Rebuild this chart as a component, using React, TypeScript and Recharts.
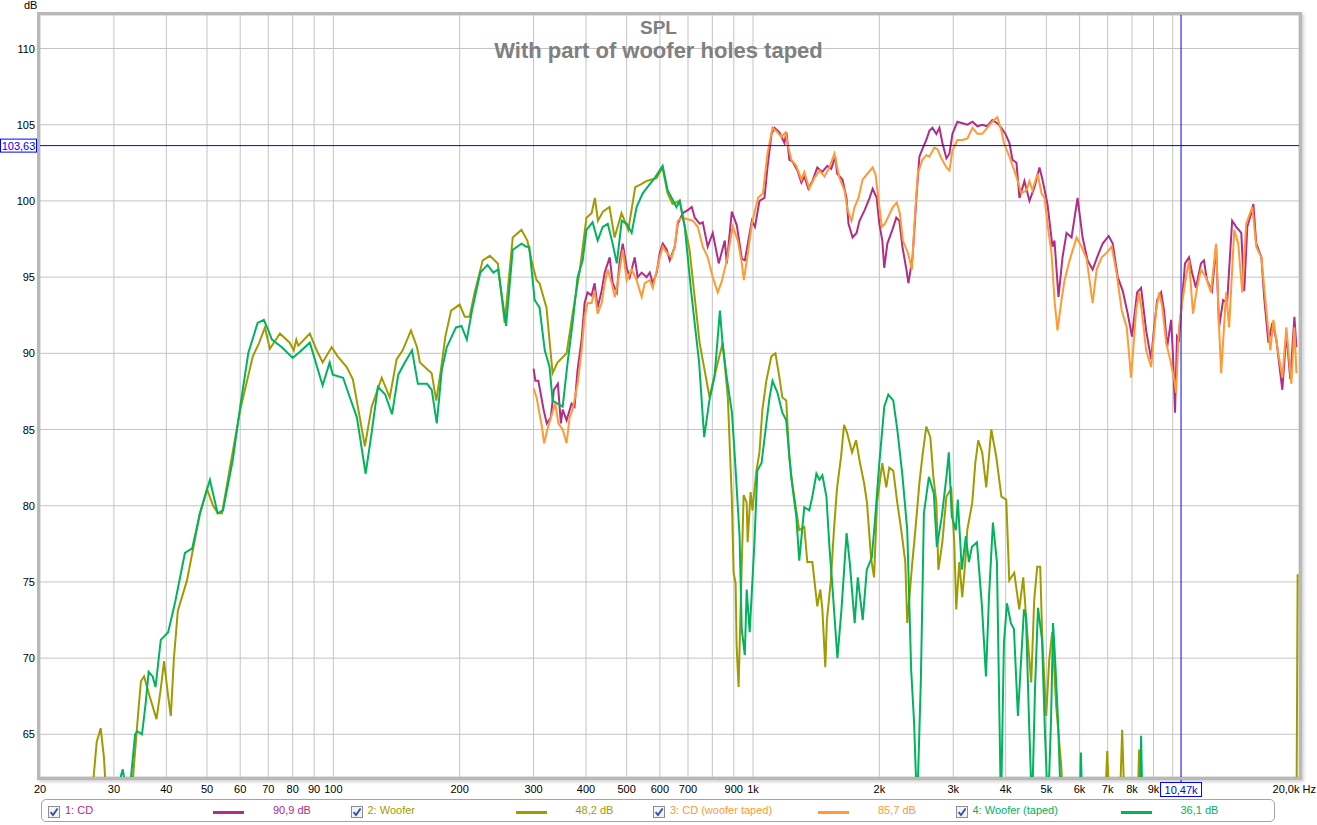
import { CartesianGrid, Line, LineChart, ReferenceLine, XAxis, YAxis } from "recharts";

// series 1: CD
const cdFreq = [
  300, 303, 308, 317, 322.6, 329.8, 335.3, 342.8, 348.5, 352, 359.6, 369.5, 375.6, 381.9, 390.5, 397, 403.4, 412.4,
  419.3, 426.4, 435.9, 443.2, 455.6, 463, 473.6, 481.4, 489.4, 500.2, 508.5, 522.6, 531, 543, 558, 567.6, 577, 589.7,
  599.6, 609.6, 623, 633.4, 651, 661.7, 680, 699, 714.6, 726.6, 746.8, 759, 780, 801.8, 828.7, 856.6, 866, 890.3, 915,
  940.6, 956.3, 994, 1011, 1036, 1065, 1082.5, 1107, 1125, 1156, 1188, 1201, 1221, 1241, 1276, 1304, 1325, 1355, 1385,
  1423, 1462, 1503, 1536, 1570, 1587, 1634, 1670, 1689, 1727, 1765, 1794, 1845, 1896, 1928, 1971, 2000, 2033, 2055,
  2090, 2148, 2195, 2232, 2270, 2320, 2346, 2400, 2455, 2492, 2532, 2588, 2632, 2676, 2735, 2781, 2827, 2890, 2938,
  2987, 3070, 3155, 3243, 3334, 3427, 3517, 3615, 3717, 3820, 3907, 3995, 4084, 4152, 4244, 4314, 4434, 4558, 4684,
  4815, 4895, 5031, 5171, 5228, 5345, 5464, 5586, 5742, 5935, 6101, 6271, 6446, 6626, 6811, 7040, 7197, 7398, 7604,
  7816, 8000, 8227, 8410, 8644, 8886, 9033, 9183, 9387, 9540, 9700, 9915, 10020, 10130, 10240, 10350, 10530, 10700,
  10940, 11120, 11360, 11680, 11870, 12070, 12410, 12690, 12900, 13190, 13480, 13860, 14170, 14570, 14810, 15060,
  15400, 15570, 15820, 16270, 16540, 16910, 17280, 17660, 18250, 18660, 19070, 19500, 19720
];
const cdDb = [
  89.0, 88.2, 88.2, 86.3, 85.4, 85.8, 87.6, 88.0, 85.4, 86.3, 85.6, 86.7, 86.5, 88.9, 90.9, 93.3, 94.0, 93.8,
  94.6, 93.0, 94.1, 95.3, 96.3, 94.6, 94.0, 96.1, 97.2, 95.6, 95.0, 96.3, 95.0, 95.3, 95.0, 95.3, 94.6, 95.3,
  96.6, 97.2, 96.8, 96.1, 97.0, 98.5, 99.2, 99.4, 99.6, 98.9, 98.5, 98.6, 97.0, 97.9, 95.9, 97.4, 95.9, 99.3, 98.4,
  96.2, 96.1, 98.7, 98.3, 100.0, 100.2, 102.2, 104.4, 104.8, 104.5, 103.8, 104.5, 102.7, 102.6, 102.0, 101.2, 101.6, 100.8, 101.3,
  102.2, 101.9, 102.3, 102.1, 102.9, 101.8, 101.4, 100.2, 98.5, 97.6, 97.9, 98.7, 99.4, 100.2, 100.8, 100.2, 98.5, 97.4, 95.6,
  97.2, 98.1, 98.9, 98.7, 97.0, 95.5, 94.6, 96.3, 100.5, 102.9, 103.4, 104.0, 104.6, 104.8, 104.4, 104.8, 103.8, 102.8, 103.1,
  104.4, 105.2, 105.1, 105.0, 105.2, 104.9, 105.0, 104.9, 105.3, 105.1, 104.8, 104.4, 103.8, 102.7, 102.5, 100.2, 101.3, 100.0, 100.9,
  102.2, 101.4, 99.8, 97.0, 97.4, 93.7, 96.3, 97.9, 97.6, 100.2, 97.6, 96.1, 95.5, 96.4, 97.2, 97.7, 97.2, 95.0, 94.1,
  92.6, 91.1, 94.0, 94.3, 91.5, 89.6, 91.7, 93.5, 94.0, 92.8, 90.4, 92.2, 89.8, 86.1, 91.1, 90.9, 93.5, 95.9,
  96.3, 95.3, 94.3, 95.9, 96.1, 94.8, 94.1, 97.0, 91.7, 93.5, 93.3, 98.7, 98.3, 97.9, 94.1, 98.3,
  99.2, 99.8, 97.2, 96.3, 93.5, 90.7, 92.0, 90.9, 87.6, 91.3, 88.3, 92.4, 90.4
];

// series 2: Woofer
const wooferFreq = [
  20, 24, 26.0, 26.8, 27.3, 27.9, 28.4, 28.9, 30.5, 32.4, 33.5, 34.3, 34.8, 35.4, 36.5, 37.9, 38.8, 39.5, 40.4, 41.0,
  41.7, 42.6, 44.8, 48.1, 50, 51.7, 53.1, 54.3, 56.7, 60, 64.3, 66.6, 68.7, 70.6, 74.6, 78.7, 80.5, 81.6, 82.5, 87.9,
  91.3, 94.3, 99.1, 102.4, 107.6, 111.3, 114.4, 118.9, 123.4, 130.4, 136.3, 141.5, 146.3, 153.1, 158.3, 160.8, 171.5,
  175.9, 180.4, 184.9, 190.8, 200, 205.6, 211.2, 217.1, 227, 236.1, 246.6, 256, 267.6, 280.7, 290, 296.5, 305, 310,
  322, 333, 342, 359.6, 371.7, 386, 401, 412.6, 420, 427, 439, 455, 468, 486, 504.5, 524, 541.6, 556.6, 589, 608.6,
  625.7, 643, 668.6, 706, 746, 788, 801, 847, 871, 890, 899, 909, 914, 924, 939, 950, 966, 971, 987, 997, 1019, 1036,
  1053, 1076, 1106, 1131, 1156, 1175, 1200, 1220, 1240, 1268, 1289, 1325, 1347, 1385, 1423, 1447, 1463, 1487, 1500,
  1533, 1559, 1585, 1621, 1648, 1675, 1722, 1760, 1799, 1839, 1869, 1911, 1943, 1975, 2033, 2078, 2112, 2159, 2207,
  2256, 2306, 2331, 2397, 2437, 2492, 2532, 2588, 2646, 2690, 2735, 2765, 2826, 2890, 2967, 3017, 3050, 3101, 3152,
  3205, 3240, 3330, 3386, 3442, 3517, 3596, 3696, 3800, 3907, 4013, 4080, 4193, 4310, 4405, 4502, 4602, 4678, 4756,
  4835, 4888, 4997, 5080, 5165, 5280, 5427, 5550, 6200, 6866, 6983, 7100, 7455, 7580, 7706, 8227, 8318, 8410, 10000,
  15000, 19700, 19850
];
const wooferDb = [
  52, 55, 58, 62.0, 64.5, 65.4, 63.5, 60, 55, 58, 63, 66.5, 68.5, 68.8, 67.5, 66.0, 68.0, 69.8, 67.5, 66.2,
  70, 73.1, 75.1, 79.5, 81.1, 80.0, 79.5, 79.5, 82.5, 86.3, 89.8, 90.7, 91.7, 90.3, 91.3, 90.7, 90.2, 90.9, 90.5, 91.3,
  90.2, 89.4, 90.4, 89.8, 89.1, 88.3, 86.5, 83.9, 86.5, 88.4, 87.1, 89.6, 90.2, 91.5, 90.4, 89.4, 88.7,
  86.9, 88.9, 91.1, 92.8, 93.2, 92.4, 92.4, 94.0, 96.1, 96.4, 95.9, 92.0, 97.6, 98.1, 97.4, 96.1, 94.8, 94.6,
  93.0, 88.7, 89.4, 90.0, 92.6, 95.3, 98.9, 99.2, 100.2, 98.7, 99.3, 99.6, 97.6, 99.2, 98.1, 100.9, 101.1, 101.3, 101.5, 102.2,
  100.5, 99.8, 100.0, 96.8, 90.7, 87.1, 88.0, 90.7, 87.1, 80.6, 75.6, 74.9, 70.8, 68.1, 75.6, 80.7, 80.2, 77.6, 80.9, 79.7, 82.3, 83.5,
  86.3, 88.2, 89.8, 90.0, 88.4, 87.1, 86.9, 83.2, 81.5, 79.7, 78.4, 78.6, 76.3, 76.3, 73.4, 74.5, 73.2, 69.4, 72.5,
  75.1, 78.4, 81.1, 83.2, 85.3, 84.8, 83.5, 84.3, 82.8, 81.5, 80.2, 76.6, 75.3, 80.2, 82.8, 81.2, 82.5, 82.3, 80.2,
  78.4, 76.3, 72.3, 76.3, 78.4, 81.5, 83.2, 85.2, 84.5, 81.9, 80.2, 75.8, 77.6, 80.6, 81.1, 77.6, 73.2, 76.3, 74.0,
  76.3, 78.4, 80.2, 82.8, 84.3, 83.5, 81.2, 85.0, 83.2, 80.6, 80.4, 75.1, 75.6, 73.2, 75.3, 71.7, 68.4, 73.8, 76.0,
  76.0, 71.4, 66.2, 69.9, 71.7, 66.8, 62.9, 58, 55, 59, 63.9, 59, 59, 65.3, 59, 59, 64.0, 59, 55,
  52, 56, 75.5
];

// series 3: CD (woofer taped)
const cdTapedFreq = [
  300, 305, 314, 318, 323.5, 332.6, 338, 343.7, 352, 359.6, 365.6, 371.7, 382, 390.5, 397, 403.4, 412.4, 419.3, 426.4,
  435.9, 443.2, 450.7, 460.7, 468.4, 476.2, 489.4, 500.2, 514, 528, 543, 552, 567.6, 577, 599.6, 609.6, 623, 640, 651,
  661.7, 680, 699, 718.5, 738.5, 759, 780, 801.8, 824, 842, 866, 895, 920, 940.6, 951, 972.6, 994, 1028, 1056, 1082.5,
  1113, 1144, 1169, 1195, 1208, 1234, 1268, 1304, 1325, 1362, 1400, 1440, 1480, 1521, 1563, 1607, 1652, 1680, 1717,
  1746, 1784, 1824, 1875, 1928, 1960, 1983, 2027, 2061, 2095, 2154, 2201, 2238, 2276, 2339, 2391, 2430, 2470, 2532,
  2588, 2632, 2705, 2750, 2811, 2890, 2938, 2987, 3070, 3155, 3243, 3334, 3427, 3517, 3615, 3717, 3820, 3907, 3962,
  4084, 4193, 4263, 4360, 4482, 4558, 4633, 4764, 4870, 4951, 5031, 5142, 5228, 5316, 5435, 5526, 5680, 5903, 6067,
  6237, 6446, 6590, 6774, 6964, 7158, 7357, 7562, 7773, 7960, 8182, 8318, 8456, 8644, 8886, 9134, 9285, 9439, 9648,
  9861, 10080, 10190, 10350, 10530, 10760, 10940, 11180, 11430, 11680, 12000, 12340, 12690, 12900, 13050, 13410, 13630,
  14020, 14330, 14650, 14970, 15480, 15820, 16270, 16720, 17090, 17380, 17760, 18250, 18660, 19180, 19500, 19720
];
const cdTapedDb = [
  87.7, 87.1, 85.2, 84.1, 85.0, 86.1, 86.7, 85.4, 85.0, 84.1, 85.8, 86.3, 88.0, 90.2, 92.4, 93.3, 93.3, 94.1, 92.6,
  93.3, 94.6, 95.5, 94.6, 93.7, 94.6, 96.8, 94.8, 95.5, 94.8, 93.7, 94.6, 94.8, 94.3, 96.3, 97.0, 96.6, 96.3, 97.0,
  98.7, 98.9, 98.8, 98.7, 98.3, 97.0, 96.3, 95.0, 94.0, 94.7, 96.1, 98.3, 97.4, 95.9, 94.8, 96.6, 98.5, 100.2, 100.5, 103.1,
  104.8, 104.5, 104.2, 104.5, 103.8, 102.7, 102.3, 101.4, 101.9, 100.8, 101.5, 102.0, 101.6, 102.2, 103.1, 101.5, 100.7, 99.4, 98.7,
  99.6, 100.2, 101.4, 101.8, 102.2, 101.7, 100.5, 98.3, 98.5, 98.9, 99.6, 99.9, 99.2, 97.4, 96.6, 95.5, 98.9, 101.8, 102.7,
  103.0, 102.9, 103.5, 103.4, 102.8, 102.2, 102.0, 103.3, 104.0, 104.0, 104.1, 104.8, 104.4, 104.4, 104.8, 105.2, 105.5, 104.6, 103.8,
  102.9, 102.0, 101.4, 100.5, 100.7, 101.3, 100.7, 101.8, 100.5, 100.2, 98.5, 96.6, 93.5, 91.5, 93.5, 94.8, 96.1, 97.6, 97.0,
  96.2, 93.3, 95.5, 96.3, 96.6, 97.0, 95.2, 92.8, 91.7, 88.4, 92.8, 94.0, 92.6, 90.2, 89.1, 92.8, 94.0, 93.1, 90.7,
  89.6, 88.3, 87.4, 91.7, 93.3, 95.0, 96.1, 92.6, 94.3, 95.5, 95.0, 94.0, 97.2, 91.7, 88.7, 94.0, 91.7,
  98.1, 97.2, 94.0, 98.5, 99.6, 97.0, 96.3, 92.8, 90.2, 92.2, 90.4, 88.4, 91.7, 88.0, 91.7, 88.7
];

// series 4: Woofer (taped)
const wooferTapedFreq = [
  20, 29, 30.2, 31.2, 31.5, 32.0, 32.4, 32.9, 33.7, 34.1, 35.0, 35.7, 36.3, 37.1, 37.7, 38.8, 40.4, 42.0, 44.3, 46.1,
  48.1, 50.8, 53.0, 54.6, 57.6, 60, 62.7, 66.0, 68.3, 70.0, 71.4, 75.4, 80, 82.5, 87.9, 93.1, 94.3, 98.0, 99.7, 105.5,
  109.5, 113.8, 119.4, 123.4, 127.7, 132.9, 138, 142.8, 148, 154, 159, 167.3, 171.6, 176.4, 181.3, 186.3, 196, 202,
  208, 214, 224, 233, 240.6, 247, 258, 267.6, 281, 288, 293, 301.8, 310, 319, 327.5, 333, 342, 352, 361.6, 371.7, 382,
  392.8, 401, 414.7, 426.4, 438.4, 450.7, 463, 473.6, 486.7, 500, 513.9, 528, 546, 567.6, 583, 609, 626, 657, 669,
  687.6, 712, 728, 744, 765, 787, 810, 834, 847, 866, 891, 907, 929, 940, 956, 966, 982, 1008, 1024, 1048, 1076, 1095,
  1113, 1144, 1175, 1200, 1233, 1268, 1289, 1325, 1362, 1385, 1416, 1440, 1463, 1496, 1521, 1546, 1589, 1625, 1671,
  1700, 1747, 1777, 1826, 1867, 1919, 1951, 2000, 2055, 2101, 2159, 2207, 2268, 2331, 2382, 2420, 2460, 2512, 2554,
  2625, 2697, 2742, 2818, 2896, 2928, 2976, 3043, 3076, 3145, 3215, 3270, 3324, 3417, 3512, 3590, 3650, 3730, 3813,
  3898, 3962, 4028, 4117, 4186, 4278, 4423, 4472, 4546, 4622, 4699, 4777, 4883, 4964, 5047, 5131, 5188, 5245, 5333,
  5421, 5542, 5979, 6046, 6113, 8318, 8410, 8503, 12000, 20000
];
const wooferTapedDb = [
  50, 55, 58, 62.3, 62.7, 61.5, 60, 62, 65.0, 65.2, 65.0, 67, 69.1, 68.8, 68.1, 71.2, 71.7, 73.7, 76.9, 77.2,
  79.5, 81.7, 79.5, 79.7, 83.0, 86.5, 90.0, 92.0, 92.2, 91.5, 90.9, 90.4, 89.7, 90.0, 90.7, 88.4, 87.9, 89.4, 88.6, 88.4,
  87.1, 85.8, 82.1, 84.8, 87.8, 87.3, 86.0, 88.6, 89.4, 90.2, 88.0, 88.0, 87.6, 85.4, 88.9, 90.4, 91.7, 91.8,
  90.9, 92.8, 95.3, 95.8, 95.3, 95.5, 91.8, 96.8, 97.2, 97.0, 97.0, 93.5, 93.0, 90.2, 89.1, 86.9, 86.7, 86.5, 89.4, 92.0, 95.0,
  96.1, 98.1, 98.6, 97.4, 98.3, 98.5, 97.2, 95.9, 98.7, 98.5, 97.9, 99.6, 100.5, 101.1, 101.5, 102.3, 100.7, 99.6, 100.0,
  98.3, 94.1, 91.7, 89.4, 84.5, 86.9, 88.5, 92.8, 90.5, 88.4, 86.1, 82.8, 78.0, 71.9, 70.2, 74.5, 71.7, 77.6, 82.3, 82.8, 85.4, 87.1,
  88.2, 87.4, 86.1, 85.6, 81.9, 79.3, 76.4, 79.9, 79.7, 80.6, 82.1, 81.7, 82.0, 80.6, 77.3, 74.7, 70.0, 73.2, 78.2,
  76.3, 72.3, 75.3, 72.5, 75.8, 76.6, 78.9, 82.8, 86.5, 87.3, 86.9, 85.0, 82.1, 78.4, 69.2, 65.8, 60, 68.6, 79.5,
  81.9, 80.8, 77.3, 79.3, 82.1, 83.5, 79.3, 78.4, 80.4, 75.8, 78.0, 76.3, 77.3, 77.6, 73.4, 68.8, 74.0, 78.9, 76.3,
  60, 71.0, 73.6, 72.3, 71.9, 66.2, 73.2, 72.7, 66, 60, 68, 73.3, 71.2, 65, 60, 66, 72.3, 70, 65.8,
  60, 58, 58, 63.8, 58, 58, 64.9, 58, 55, 52
];

const xTicks = [20, 30, 40, 50, 60, 70, 80, 90, 100, 200, 300, 400, 500, 600, 700, 800, 900, 1000, 2000, 3000, 4000, 5000, 6000, 7000, 8000, 9000, 10000, 20000];
const xTickLabels = ["20", "30", "40", "50", "60", "70", "80", "90", "100", "200", "300", "400", "500", "600", "700", "", "900", "1k", "2k", "3k", "4k", "5k", "6k", "7k", "8k", "9k", "", "20,0k Hz"];
const yTicks = [65, 70, 75, 80, 85, 90, 95, 100, 105, 110];

const cursorHz = 10470;
const cursorDb = 103.63;

const seriesNames = ["1: CD", "2: Woofer", "3: CD (woofer taped)", "4: Woofer (taped)"];
const seriesValues = ["90,9 dB", "48,2 dB", "85,7 dB", "36,1 dB"];
const seriesColors = ["#b12d87", "#a09c00", "#ff9a35", "#00b35e"];

const zip = (f: number[], d: number[]) => f.map((v, i) => ({ f: v, db: d[i] }));
const cdData = zip(cdFreq, cdDb);
const wooferData = zip(wooferFreq, wooferDb);
const cdTapedData = zip(cdTapedFreq, cdTapedDb);
const wooferTapedData = zip(wooferTapedFreq, wooferTapedDb);

const FONT = "'Liberation Sans', Arial, sans-serif";

function XTick(props: any) {
  const { x, y, payload } = props;
  const idx = xTicks.indexOf(payload.value);
  const label = xTickLabels[idx];
  if (!label) return <g />;
  const last = idx === xTicks.length - 1;
  return (
    <text x={last ? 1316 : x} y={y + 8} textAnchor={last ? "end" : "middle"} fontFamily={FONT} fontSize={11} fill="#000">
      {label}
    </text>
  );
}

function YTick(props: any) {
  const { y, payload } = props;
  return (
    <text x={35} y={y + 4} textAnchor="end" fontFamily={FONT} fontSize={11} fill="#000">
      {payload.value}
    </text>
  );
}

function YCursorLabel(props: any) {
  const vb = props.viewBox || {};
  const y = vb.y ?? 0;
  return (
    <g>
      <rect x={0.5} y={y - 6.5} width={36} height={13} fill="#fff" stroke="#0000ff" />
      <text x={18.5} y={y + 4} textAnchor="middle" fontFamily={FONT} fontSize={11} fill="#0000ff">
        103,63
      </text>
    </g>
  );
}

function XCursorLabel(props: any) {
  const vb = props.viewBox || {};
  const x = vb.x ?? 0;
  const bottom = (vb.y ?? 0) + (vb.height ?? 0);
  return (
    <g>
      <line x1={x} x2={x} y1={bottom} y2={bottom + 5} stroke="#0000ff" />
      <rect x={x - 20.5} y={bottom + 5.5} width={41} height={14} fill="#fff" stroke="#0000ff" />
      <text x={x} y={bottom + 16.5} textAnchor="middle" fontFamily={FONT} fontSize={11} fill="#0000ff">
        10,47k
      </text>
    </g>
  );
}

function CheckBox() {
  return (
    <svg width={12} height={12} style={{ display: "block" }}>
      <rect x={0.5} y={0.5} width={11} height={11} fill="#f3f3f3" stroke="#8c8e90" />
      <path d="M2.6 6.2 L5 9 L9.6 2.4" stroke="#2b4db5" strokeWidth={1.8} fill="none" />
    </svg>
  );
}

export default function App() {
  return (
    <div style={{ position: "absolute", left: 0, top: 0, width: 1317, height: 825, background: "#fff", fontFamily: FONT }}>
      <LineChart width={1317} height={825} margin={{ top: 15, right: 18, bottom: 18, left: 0 }}>
        <CartesianGrid stroke="#c4c4c4" />
        <XAxis
          type="number"
          dataKey="f"
          scale="log"
          domain={[20, 20000]}
          ticks={xTicks}
          interval={0}
          allowDataOverflow
          axisLine={false}
          tickLine={false}
          height={30}
          tick={<XTick />}
        />
        <YAxis
          type="number"
          domain={[62.2, 112.2]}
          ticks={yTicks}
          interval={0}
          allowDataOverflow
          axisLine={false}
          tickLine={false}
          width={40}
          tick={<YTick />}
        />
        <Line data={cdData} dataKey="db" type="linear" stroke={seriesColors[0]} strokeWidth={2} dot={false} isAnimationActive={false} />
        <Line data={wooferData} dataKey="db" type="linear" stroke={seriesColors[1]} strokeWidth={2} dot={false} isAnimationActive={false} />
        <Line data={cdTapedData} dataKey="db" type="linear" stroke={seriesColors[2]} strokeWidth={2} dot={false} isAnimationActive={false} />
        <Line data={wooferTapedData} dataKey="db" type="linear" stroke={seriesColors[3]} strokeWidth={2} dot={false} isAnimationActive={false} />
        <ReferenceLine y={cursorDb} stroke="#0000ff" strokeWidth={1} label={(p: any) => <YCursorLabel {...p} />} />
        <ReferenceLine x={cursorHz} stroke="#0000ff" strokeWidth={1} label={(p: any) => <XCursorLabel {...p} />} />
      </LineChart>

      {/* plot frame */}
      <div
        style={{
          position: "absolute",
          left: 37,
          top: 12,
          width: 1259,
          height: 762,
          border: "3px solid #b8b8b8",
          boxShadow: "2px 2px 3px rgba(0,0,0,0.18)",
          pointerEvents: "none"
        }}
      />

      <div style={{ position: "absolute", left: 24, top: -1, fontSize: 11 }}>dB</div>

      <div style={{ position: "absolute", left: 0, width: 1317, top: 17, textAlign: "center", color: "#808080", fontWeight: "bold", fontSize: 19 }}>
        SPL
      </div>
      <div style={{ position: "absolute", left: 0, width: 1317, top: 38, textAlign: "center", color: "#808080", fontWeight: "bold", fontSize: 22 }}>
        With part of woofer holes taped
      </div>

      {/* legend */}
      <div
        style={{
          position: "absolute",
          left: 41,
          top: 799,
          width: 1234,
          height: 23,
          border: "1px solid #a4a4a4",
          borderRadius: 5,
          boxSizing: "border-box"
        }}
      />
      {seriesNames.map((name, i) => {
        const left = 48 + i * 302.5;
        return (
          <div key={name}>
            <div style={{ position: "absolute", left, top: 806 }}>
              <CheckBox />
            </div>
            <div style={{ position: "absolute", left: left + 17, top: 804, fontSize: 11, color: seriesColors[i] }}>{name}</div>
            <div style={{ position: "absolute", left: left + 165, top: 811, width: 31, height: 3, background: seriesColors[i] }} />
            <div style={{ position: "absolute", left: left + 225, top: 804, fontSize: 11, color: seriesColors[i] }}>{seriesValues[i]}</div>
          </div>
        );
      })}
    </div>
  );
}
